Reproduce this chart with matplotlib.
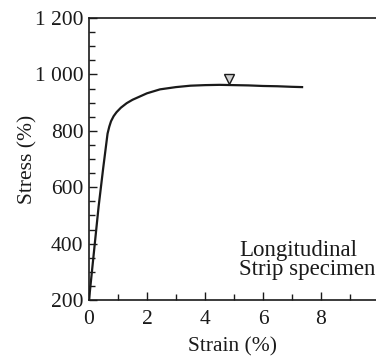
import matplotlib
matplotlib.use("Agg")
import matplotlib.pyplot as plt
from matplotlib.ticker import MultipleLocator

# ------------------------------------------------------------------------------
# Data
# ------------------------------------------------------------------------------

strain = [0.0, 0.18, 0.33, 0.49, 0.64, 0.7, 0.76, 0.85, 0.95, 1.1, 1.3,
          1.5, 2.0, 2.45, 3.0, 3.5, 4.0, 4.5, 5.0, 5.5, 6.0, 6.5, 7.0, 7.35]
stress = [200, 380, 530, 668, 790, 815, 834, 852, 866, 882, 898,
          910, 933, 947, 955, 960, 962, 963, 962, 961, 959, 958, 956, 955]

peak_strain = [4.83]
peak_stress = [983]

x_ticks = [0, 2, 4, 6, 8]
y_ticks = [200, 400, 600, 800, 1000, 1200]
y_tick_labels = ["200", "400", "600", "800", "1 000", "1 200"]

# ------------------------------------------------------------------------------
# Figure
# ------------------------------------------------------------------------------

plt.rcParams["font.family"] = ["Liberation Serif", "DejaVu Serif"]
INK = "#1a1a1a"
FS = 15.5

fig = plt.figure(figsize=(3.76, 3.56), dpi=100)
ax = fig.add_axes([0.2367, 0.1573, 0.7633, 0.7921])

ax.plot(strain, stress, color=INK, lw=1.6, solid_joinstyle="round")
ax.plot(peak_strain, peak_stress, marker="v", ms=7, mfc="#d0d0d0",
        mec=INK, mew=1.0, ls="none")

ax.set_xlim(0, 9.9)
ax.set_ylim(200, 1200)

ax.set_xticks(x_ticks)
ax.set_yticks(y_ticks)
ax.set_yticklabels(y_tick_labels)
ax.xaxis.set_minor_locator(MultipleLocator(1))
ax.yaxis.set_minor_locator(MultipleLocator(50))

ax.tick_params(which="major", direction="in", length=6, width=1.0,
               labelsize=FS, colors=INK)
ax.tick_params(which="minor", direction="in", length=4, width=1.0,
               colors=INK)
ax.tick_params(axis="x", which="major", pad=7)
ax.tick_params(axis="y", which="major", pad=4)
ax.tick_params(axis="x", which="both", top=False)
ax.tick_params(axis="y", which="both", right=False)

ax.spines["right"].set_visible(False)
for side in ("left", "bottom", "top"):
    ax.spines[side].set_linewidth(1.2)
    ax.spines[side].set_color(INK)

ax.set_xlabel("Strain (%)", fontsize=FS, labelpad=6, color=INK)
ax.set_ylabel("Stress (%)", fontsize=FS, labelpad=-2, color=INK)

ax.text(5.17, 272, "Longitudinal\nStrip specimen", fontsize=16.5,
        color=INK, linespacing=0.85, va="bottom", ha="left")

fig.savefig("out.png", dpi=100)
